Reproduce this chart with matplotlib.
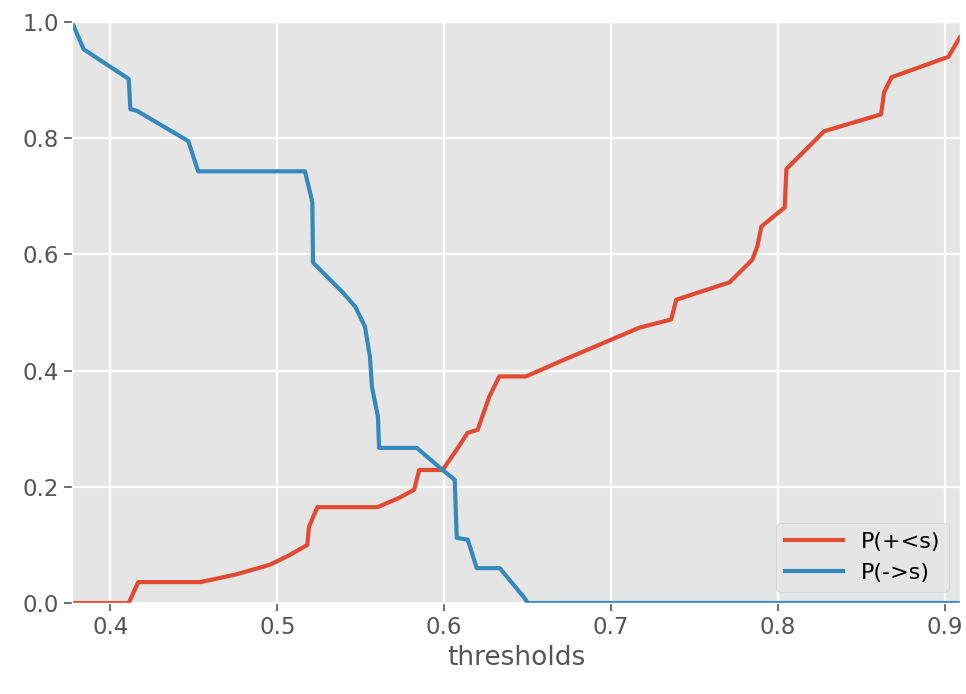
import matplotlib
matplotlib.use("Agg")
import matplotlib.pyplot as plt

plt.style.use("ggplot")

# P(+<s): share of positives scored below the threshold
pos_x = [0.377, 0.411, 0.4167, 0.454, 0.475, 0.4957, 0.507, 0.518, 0.519, 0.524,
         0.560, 0.573, 0.582, 0.585, 0.599, 0.6075, 0.614, 0.620, 0.627, 0.633,
         0.649, 0.672, 0.717, 0.736, 0.739, 0.771, 0.7846, 0.7876, 0.790, 0.804,
         0.805, 0.8276, 0.8617, 0.8635, 0.868, 0.902, 0.909]
pos_y = [0.0, 0.0, 0.036, 0.036, 0.049, 0.066, 0.082, 0.10, 0.131, 0.165,
         0.165, 0.181, 0.195, 0.229, 0.229, 0.264, 0.293, 0.298, 0.355, 0.39,
         0.39, 0.419, 0.474, 0.488, 0.522, 0.552, 0.591, 0.614, 0.648, 0.681,
         0.747, 0.812, 0.841, 0.879, 0.905, 0.940, 0.974]

# P(->s): share of negatives scored above the threshold
neg_x = [0.377, 0.384, 0.411, 0.412, 0.416, 0.4467, 0.4526, 0.5166, 0.521, 0.5214,
         0.5394, 0.5467, 0.5525, 0.5555, 0.5567, 0.5603, 0.561, 0.5836, 0.599, 0.6063,
         0.6075, 0.6141, 0.6195, 0.6333, 0.648, 0.650, 0.909]
neg_y = [1.0, 0.953, 0.902, 0.85, 0.847, 0.795, 0.743, 0.743, 0.69, 0.586,
         0.534, 0.510, 0.476, 0.424, 0.372, 0.321, 0.267, 0.267, 0.229, 0.212,
         0.112, 0.109, 0.06, 0.06, 0.009, 0.0, 0.0]

fig = plt.figure(figsize=(9.66, 6.94), dpi=100)
ax = fig.add_axes([0.0745, 0.1311, 0.9193, 0.8372])

ax.plot(pos_x, pos_y, label="P(+<s)", linewidth=3)
ax.plot(neg_x, neg_y, label="P(->s)", linewidth=3)

ax.set_xlim(min(pos_x), max(pos_x))
ax.set_ylim(0, 1)
ax.set_xticks([0.4, 0.5, 0.6, 0.7, 0.8, 0.9])
ax.set_yticks([0.0, 0.2, 0.4, 0.6, 0.8, 1.0])
ax.tick_params(labelsize=16.5, length=6, width=1.2)
ax.grid(color="white", linewidth=1.6)
ax.set_xlabel("thresholds", fontsize=19, labelpad=4)

ax.legend(loc="lower right", fontsize=16, handlelength=2.6)

fig.savefig("out.png", dpi=100)
